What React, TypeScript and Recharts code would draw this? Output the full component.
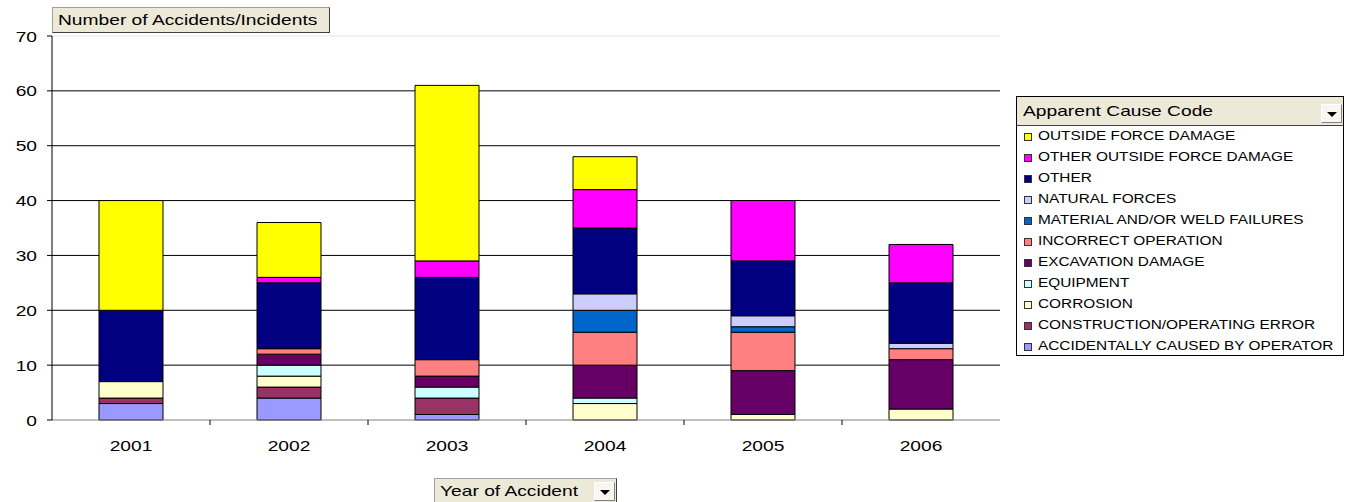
import React from 'react';
import {
  BarChart,
  Bar,
  XAxis,
  YAxis,
  CartesianGrid,
  ReferenceLine
} from 'recharts';

// years on the category axis
const years = ['2001', '2002', '2003', '2004', '2005', '2006'];

// accidents/incidents per apparent cause, one value per year
const accidentallyCausedByOperator = [3, 4, 1, 0, 0, 0];
const constructionOperatingError = [1, 2, 3, 0, 0, 0];
const corrosion = [3, 2, 0, 3, 1, 2];
const equipment = [0, 2, 2, 1, 0, 0];
const excavationDamage = [0, 2, 2, 6, 8, 9];
const incorrectOperation = [0, 1, 3, 6, 7, 2];
const materialWeldFailures = [0, 0, 0, 4, 1, 0];
const naturalForces = [0, 0, 0, 3, 2, 1];
const other = [13, 12, 15, 12, 10, 11];
const otherOutsideForceDamage = [0, 1, 3, 7, 11, 7];
const outsideForceDamage = [20, 10, 32, 6, 0, 0];

const yTicks = [0, 10, 20, 30, 40, 50, 60, 70];

// stacking order, bottom to top
const causes = [
  { key: 'accidental', name: 'ACCIDENTALLY CAUSED BY OPERATOR', color: '#9999FF', values: accidentallyCausedByOperator },
  { key: 'construction', name: 'CONSTRUCTION/OPERATING ERROR', color: '#993366', values: constructionOperatingError },
  { key: 'corrosion', name: 'CORROSION', color: '#FFFFCC', values: corrosion },
  { key: 'equipment', name: 'EQUIPMENT', color: '#CCFFFF', values: equipment },
  { key: 'excavation', name: 'EXCAVATION DAMAGE', color: '#660066', values: excavationDamage },
  { key: 'incorrect', name: 'INCORRECT OPERATION', color: '#FF8080', values: incorrectOperation },
  { key: 'material', name: 'MATERIAL AND/OR WELD FAILURES', color: '#0066CC', values: materialWeldFailures },
  { key: 'natural', name: 'NATURAL FORCES', color: '#CCCCFF', values: naturalForces },
  { key: 'other', name: 'OTHER', color: '#000080', values: other },
  { key: 'otherOutside', name: 'OTHER OUTSIDE FORCE DAMAGE', color: '#FF00FF', values: otherOutsideForceDamage },
  { key: 'outside', name: 'OUTSIDE FORCE DAMAGE', color: '#FFFF00', values: outsideForceDamage }
];

const data = years.map((year, i) => {
  const row: Record<string, string | number> = { year };
  causes.forEach((c) => {
    row[c.key] = c.values[i];
  });
  return row;
});

const CHART_W = 1347;
const CHART_H = 502;
const X_AXIS_H = 30;
const MARGIN = { top: 36, right: 347, bottom: 82 - X_AXIS_H, left: 0 };
const Y_AXIS_W = 52;
const BAND = (CHART_W - MARGIN.left - MARGIN.right - Y_AXIS_W) / years.length;
// the old spreadsheet export renders its text wide
const STRETCH = 1.28;
const FONT = '"Liberation Sans", Arial, sans-serif';
const PANEL_BG = '#ECE9D8';

const XTick = (props: any) => {
  const { x, y, payload, index } = props;
  return (
    <g>
      <g transform={`translate(${x},${y + 31}) scale(${STRETCH},1)`}>
        <text textAnchor="middle" fontSize={15} fill="#000" fontFamily={FONT}>
          {payload.value}
        </text>
      </g>
      {index < years.length - 1 && (
        <line x1={x + BAND / 2} x2={x + BAND / 2} y1={y} y2={y + 5} stroke="#000" />
      )}
    </g>
  );
};

const YTick = (props: any) => {
  const { x, y, payload } = props;
  return (
    <g transform={`translate(${x},${y}) scale(${STRETCH},1)`}>
      <text textAnchor="end" dy={5.5} fontSize={15} fill="#000" fontFamily={FONT}>
        {payload.value}
      </text>
    </g>
  );
};

const Wide: React.FC<{ children: React.ReactNode }> = ({ children }) => (
  <span
    style={{
      display: 'inline-block',
      transform: `scaleX(${STRETCH})`,
      transformOrigin: 'left center',
      whiteSpace: 'nowrap'
    }}
  >
    {children}
  </span>
);

const DropButton: React.FC<{ style: React.CSSProperties }> = ({ style }) => (
  <div
    style={{
      position: 'absolute',
      width: 21,
      height: 19,
      background: '#F7F6F0',
      borderTop: '1px solid #fff',
      borderLeft: '1px solid #fff',
      borderRight: '1px solid #808080',
      borderBottom: '1px solid #808080',
      boxSizing: 'border-box',
      ...style
    }}
  >
    <div
      style={{
        position: 'absolute',
        left: 5,
        top: 7,
        width: 0,
        height: 0,
        borderLeft: '5px solid transparent',
        borderRight: '5px solid transparent',
        borderTop: '5px solid #000'
      }}
    />
  </div>
);

const CauseLegend = () => (
  <div
    style={{
      position: 'absolute',
      left: 1016,
      top: 96,
      width: 328,
      height: 260,
      border: '1px solid #000',
      boxSizing: 'border-box',
      background: '#fff',
      fontFamily: FONT
    }}
  >
    <div
      style={{
        position: 'absolute',
        left: 0,
        top: 0,
        right: 0,
        height: 28,
        background: PANEL_BG,
        borderBottom: '1px solid #404040',
        fontSize: 15,
        lineHeight: '28px',
        paddingLeft: 6
      }}
    >
      <Wide>Apparent Cause Code</Wide>
      <DropButton style={{ right: 1, top: 7 }} />
    </div>
    {[...causes].reverse().map((c, i) => (
      <div
        key={c.key}
        style={{
          position: 'absolute',
          left: 0,
          top: 29 + i * 21,
          height: 21,
          width: '100%',
          fontSize: 12,
          lineHeight: '21px'
        }}
      >
        <div
          style={{
            position: 'absolute',
            left: 7,
            top: 7,
            width: 8,
            height: 8,
            background: c.color,
            border: '1px solid #333',
            boxSizing: 'border-box'
          }}
        />
        <div style={{ position: 'absolute', left: 21, top: 0 }}>
          <Wide>{c.name}</Wide>
        </div>
      </div>
    ))}
  </div>
);

export default function App() {
  return (
    <div
      style={{
        position: 'absolute',
        left: 0,
        top: 0,
        width: CHART_W,
        height: CHART_H,
        background: '#fff',
        overflow: 'hidden',
        fontFamily: FONT
      }}
    >
      <BarChart width={CHART_W} height={CHART_H} data={data} margin={MARGIN}>
        <CartesianGrid
          horizontal
          vertical={false}
          stroke="#000"
          horizontalValues={[10, 20, 30, 40, 50, 60]}
        />
        <ReferenceLine y={70} stroke="#e4e4e4" />
        <XAxis
          dataKey="year"
          height={X_AXIS_H}
          axisLine={{ stroke: '#808080' }}
          tickLine={false}
          tickSize={0}
          tickMargin={0}
          tick={<XTick />}
          interval={0}
        />
        <YAxis
          width={Y_AXIS_W}
          domain={[0, 70]}
          ticks={yTicks}
          interval={0}
          axisLine={{ stroke: '#000' }}
          tickLine={{ stroke: '#000' }}
          tickSize={5}
          tickMargin={10}
          tick={<YTick />}
        />
        {causes.map((c) => (
          <Bar
            key={c.key}
            dataKey={c.key}
            name={c.name}
            stackId="cause"
            fill={c.color}
            stroke="#000"
            strokeWidth={1}
            barSize={64}
            isAnimationActive={false}
          />
        ))}
      </BarChart>

      <div
        style={{
          position: 'absolute',
          left: 52,
          top: 7,
          width: 278,
          height: 26,
          background: PANEL_BG,
          borderTop: '1px solid #a0a0a0',
          borderLeft: '1px solid #a0a0a0',
          borderRight: '1px solid #404040',
          borderBottom: '1px solid #404040',
          boxSizing: 'border-box',
          fontSize: 15,
          lineHeight: '24px',
          paddingLeft: 5
        }}
      >
        <Wide>Number of Accidents/Incidents</Wide>
      </div>

      <CauseLegend />

      <div
        style={{
          position: 'absolute',
          left: 434,
          top: 478,
          width: 183,
          height: 30,
          background: PANEL_BG,
          borderTop: '1px solid #a0a0a0',
          borderLeft: '1px solid #a0a0a0',
          borderRight: '1px solid #404040',
          boxSizing: 'border-box',
          fontSize: 15,
          lineHeight: '24px',
          paddingLeft: 5
        }}
      >
        <Wide>Year of Accident</Wide>
        <DropButton style={{ left: 159, top: 3 }} />
      </div>
    </div>
  );
}
